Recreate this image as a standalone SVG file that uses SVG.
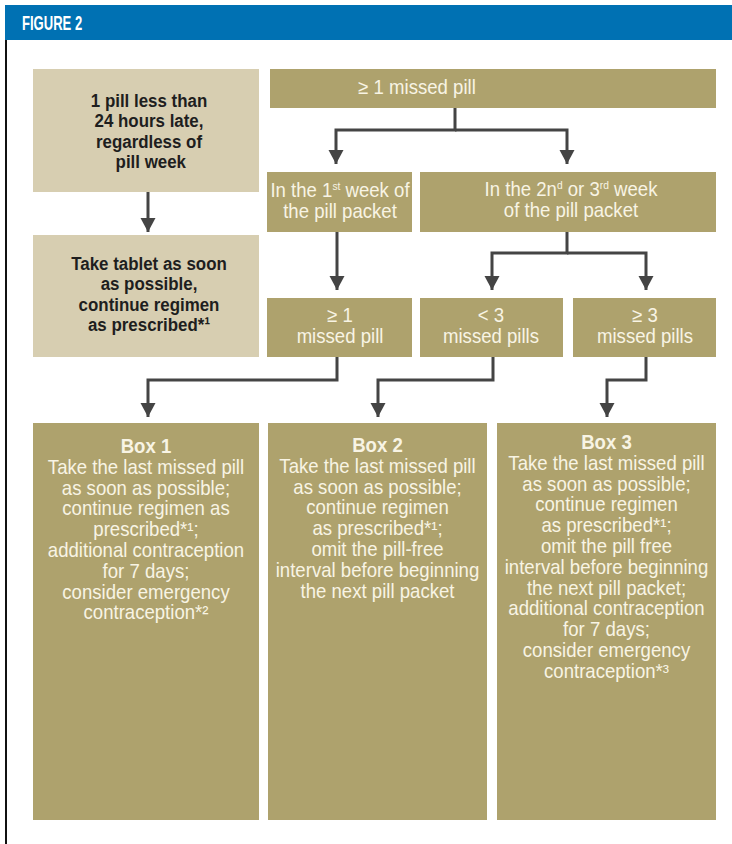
<svg xmlns="http://www.w3.org/2000/svg" width="732" height="844" viewBox="0 0 732 844">
<defs>
<style>
.t{font-family:"Liberation Sans",Arial,sans-serif;text-anchor:middle}
.lt{fill:#d7ceb1}
.dk{fill:#aea26d}
.dtx{fill:#1e1e1e;font-weight:bold;font-size:19px}
.ltx{fill:#f8f4e4;font-size:20px}
.btx{fill:#f8f4e4;font-size:20px}
.conn path{fill:none;stroke:#444;stroke-width:3;marker-end:url(#ah)}
</style>
<marker id="ah" markerUnits="userSpaceOnUse" markerWidth="16" markerHeight="16" refX="14" refY="7.5" orient="auto">
<path d="M0,0 L14,7.5 L0,15 Z" fill="#444"/>
</marker>
</defs>
<rect width="732" height="844" fill="#fff"/>
<g id="header">
<rect x="5" y="5" width="727" height="35" fill="#0071b3"/>
<text transform="translate(22,30) scale(0.67,1)" font-family="Liberation Sans,Arial,sans-serif" font-weight="bold" font-size="19.5" fill="#fff">FIGURE 2</text>
<rect x="5" y="40" width="2" height="804" fill="#111"/>
</g>
<g id="late">
<rect class="lt" x="33" y="69" width="226" height="123"/>
<text class="t dtx" transform="translate(149,0) scale(0.89,1)"><tspan x="0" y="107">1 pill less than</tspan><tspan x="0" y="127.5">24 hours late,</tspan><tspan x="0" y="148">regardless of</tspan><tspan x="2" y="168.5">pill week</tspan></text>
</g>
<g id="take">
<rect class="lt" x="33" y="235" width="226" height="122"/>
<text class="t dtx" transform="translate(149,0) scale(0.89,1)"><tspan x="0" y="270">Take tablet as soon</tspan><tspan x="0" y="290.5">as possible,</tspan><tspan x="0" y="311">continue regimen</tspan><tspan x="0" y="331.5">as prescribed*¹</tspan></text>
</g>
<g id="missed">
<rect class="dk" x="270" y="69" width="446" height="39"/>
<text class="t ltx" transform="translate(417,0) scale(0.93,1)" x="0" y="94">≥ 1 missed pill</text>
</g>
<g id="week1">
<rect class="dk" x="267" y="172" width="145" height="60"/>
<text class="t ltx" transform="translate(340,0) scale(0.93,1)"><tspan x="0" y="197">In the 1<tspan dy="-7" font-size="11">st</tspan><tspan dy="7"> week of</tspan></tspan><tspan x="0" y="218">the pill packet</tspan></text>
</g>
<g id="week23">
<rect class="dk" x="420" y="172" width="296" height="60"/>
<text class="t ltx" transform="translate(571,0) scale(0.93,1)"><tspan x="0" y="196">In the 2n<tspan dy="-7" font-size="11">d</tspan><tspan dy="7"> or 3</tspan><tspan dy="-7" font-size="11">rd</tspan><tspan dy="7"> week</tspan></tspan><tspan x="0" y="217">of the pill packet</tspan></text>
</g>
<g id="ge1">
<rect class="dk" x="267" y="298" width="145" height="59"/>
<text class="t ltx" transform="translate(340,0) scale(0.93,1)"><tspan x="0" y="322">≥ 1</tspan><tspan x="0" y="343">missed pill</tspan></text>
</g>
<g id="lt3">
<rect class="dk" x="420" y="298" width="143" height="59"/>
<text class="t ltx" transform="translate(491,0) scale(0.93,1)"><tspan x="0" y="322">&lt; 3</tspan><tspan x="0" y="343">missed pills</tspan></text>
</g>
<g id="ge3">
<rect class="dk" x="573" y="298" width="143" height="59"/>
<text class="t ltx" transform="translate(645,0) scale(0.93,1)"><tspan x="0" y="322">≥ 3</tspan><tspan x="0" y="343">missed pills</tspan></text>
</g>
<g id="box1">
<rect class="dk" x="33" y="423" width="226" height="397"/>
<text class="t btx" transform="translate(146,0) scale(0.93,1)"><tspan x="0" y="453" font-weight="bold">Box 1</tspan><tspan x="0" y="473.8">Take the last missed pill</tspan><tspan x="0" y="494.6">as soon as possible;</tspan><tspan x="0" y="515.4">continue regimen as</tspan><tspan x="0" y="536.2">prescribed*¹;</tspan><tspan x="0" y="557">additional contraception</tspan><tspan x="0" y="577.8">for 7 days;</tspan><tspan x="0" y="598.6">consider emergency</tspan><tspan x="0" y="619.4">contraception*²</tspan></text>
</g>
<g id="box2">
<rect class="dk" x="268" y="423" width="219" height="397"/>
<text class="t btx" transform="translate(377.5,0) scale(0.93,1)"><tspan x="0" y="452" font-weight="bold">Box 2</tspan><tspan x="0" y="472.8">Take the last missed pill</tspan><tspan x="0" y="493.6">as soon as possible;</tspan><tspan x="0" y="514.4">continue regimen</tspan><tspan x="0" y="535.2">as prescribed*¹;</tspan><tspan x="0" y="556">omit the pill-free</tspan><tspan x="0" y="576.8">interval before beginning</tspan><tspan x="0" y="597.6">the next pill packet</tspan></text>
</g>
<g id="box3">
<rect class="dk" x="497" y="423" width="219" height="397"/>
<text class="t btx" transform="translate(606.5,0) scale(0.93,1)"><tspan x="0" y="449" font-weight="bold">Box 3</tspan><tspan x="0" y="469.8">Take the last missed pill</tspan><tspan x="0" y="490.6">as soon as possible;</tspan><tspan x="0" y="511.4">continue regimen</tspan><tspan x="0" y="532.2">as prescribed*¹;</tspan><tspan x="0" y="553">omit the pill free</tspan><tspan x="0" y="573.8">interval before beginning</tspan><tspan x="0" y="594.6">the next pill packet;</tspan><tspan x="0" y="615.4">additional contraception</tspan><tspan x="0" y="636.2">for 7 days;</tspan><tspan x="0" y="657">consider emergency</tspan><tspan x="0" y="677.8">contraception*³</tspan></text>
</g>
<g id="connectors" class="conn">
<path d="M148 192 V232"/>
<path d="M455 108 V130 H336 V164"/>
<path d="M455 130 H567 V164"/>
<path d="M337 232 V290"/>
<path d="M567 232 V253 H492 V290"/>
<path d="M567 253 H646 V290"/>
<path d="M337 357 V380 H148 V417"/>
<path d="M493 357 V380 H378 V417"/>
<path d="M646 357 V380 H607 V417"/>
</g>
</svg>
